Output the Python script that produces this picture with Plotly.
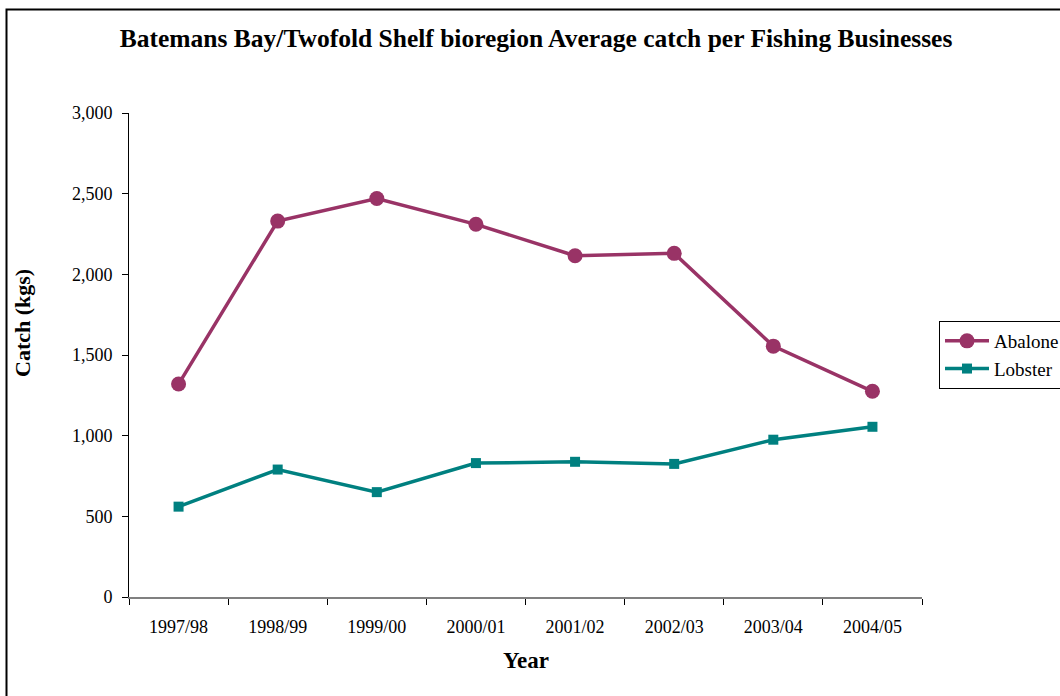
import plotly.graph_objects as go

# Financial years and average catch per fishing business (kg)
years = ["1997/98", "1998/99", "1999/00", "2000/01", "2001/02", "2002/03", "2003/04", "2004/05"]
abalone = [1320, 2330, 2470, 2310, 2115, 2130, 1555, 1275]
lobster = [560, 790, 650, 830, 838, 825, 975, 1055]
y_ticks = [0, 500, 1000, 1500, 2000, 2500, 3000]
y_tick_labels = ["0", "500", "1,000", "1,500", "2,000", "2,500", "3,000"]

SERIF = "Liberation Serif, Times New Roman, serif"

fig = go.Figure()
fig.add_trace(go.Scatter(
    x=years, y=abalone, name="Abalone", mode="lines+markers",
    line=dict(color="#993366", width=3.5),
    marker=dict(symbol="circle", size=15, color="#993366"),
))
fig.add_trace(go.Scatter(
    x=years, y=lobster, name="Lobster", mode="lines+markers",
    line=dict(color="#008080", width=3.5),
    marker=dict(symbol="square", size=10, color="#008080"),
))

fig.update_layout(
    width=1060, height=696,
    margin=dict(l=129, r=138, t=113, b=99),
    paper_bgcolor="white", plot_bgcolor="white",
    font=dict(family=SERIF, size=18, color="black"),
    title=dict(
        text="<b>Batemans Bay/Twofold Shelf bioregion Average catch per Fishing Businesses</b>",
        x=0.5057, xanchor="center", y=1 - 38 / 696, yanchor="middle",
        font=dict(family=SERIF, size=25.5, color="black"),
    ),
    xaxis=dict(
        type="category", showgrid=False, zeroline=False,
        showline=True, linecolor="#808080", linewidth=2,
        ticks="outside", tickson="boundaries", ticklen=6, tickcolor="black",
        tickfont=dict(family=SERIF, size=18), ticklabelstandoff=12,
        range=[-0.5, 7.5],
    ),
    yaxis=dict(
        range=[0, 3000], tickvals=y_ticks, ticktext=y_tick_labels,
        showgrid=False, zeroline=False,
        showline=True, linecolor="black", linewidth=1,
        ticks="outside", ticklen=6, tickcolor="black",
        tickfont=dict(family=SERIF, size=18), ticklabelstandoff=6,
    ),
    legend=dict(
        xref="container", yref="container",
        x=939 / 1060, xanchor="left",
        y=1 - 321 / 696, yanchor="top",
        bordercolor="black", borderwidth=1, bgcolor="white",
        font=dict(family=SERIF, size=19),
        itemwidth=44, tracegroupgap=0,
    ),
    showlegend=True,
)

fig.add_annotation(
    text="<b>Year</b>", xref="paper", yref="paper",
    x=(526 - 129) / 793, y=(597 - 660) / 484, xanchor="center", yanchor="middle",
    showarrow=False, font=dict(family=SERIF, size=23, color="black"),
)
fig.add_annotation(
    text="<b>Catch (kgs)</b>", xref="paper", yref="paper",
    x=(22 - 129) / 793, y=(597 - 323) / 484, xanchor="center", yanchor="middle",
    textangle=-90, showarrow=False, font=dict(family=SERIF, size=22, color="black"),
)

# Outer chart frame (open on the right and bottom edges of the page)
fig.add_shape(
    type="rect", xref="paper", yref="paper",
    x0=(6.5 - 129) / 793, x1=(1080 - 129) / 793,
    y0=(597 - 720) / 484, y1=(597 - 9.5) / 484,
    line=dict(color="black", width=2), fillcolor="rgba(0,0,0,0)", layer="below",
)

fig.write_html("out.html")
